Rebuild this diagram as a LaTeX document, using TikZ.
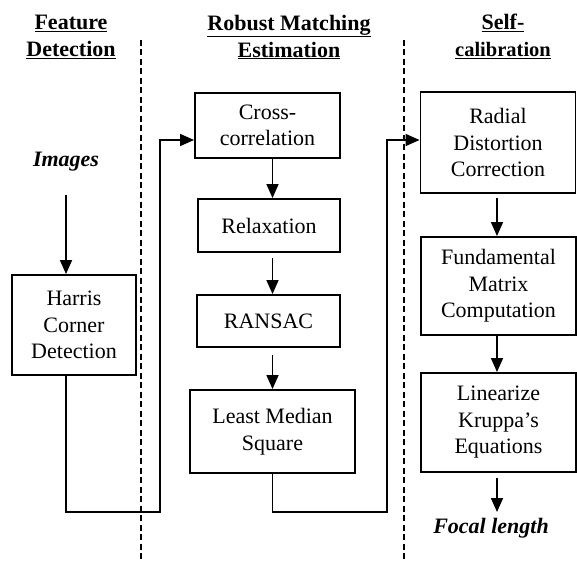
\documentclass[tikz,border=0pt]{standalone}
\usepackage{fontspec}
\setmainfont{Liberation Serif}
\usepackage{tikz}
\usetikzlibrary{arrows.meta,positioning,calc}
\tikzstyle{stage} = [rectangle, draw, line width=1.9pt, align=center,
                     inner sep=2pt, font=\fontsize{22}{26.5}\selectfont]
\tikzstyle{head}  = [align=center, inner sep=0pt,
                     font=\fontsize{22}{27}\selectfont\bfseries]
\tikzstyle{io}    = [inner sep=1pt, font=\fontsize{22}{26}\selectfont\bfseries\itshape]
\tikzstyle{flow}  = [line width=1.7pt]
\tikzstyle{sep}   = [line width=1.8pt, dash pattern=on 6pt off 3.5pt]

\begin{document}
\begin{tikzpicture}[x=1pt, y=-1pt, >={Triangle[length=14pt,width=12pt]}]
  \useasboundingbox (0,0) rectangle (577,561);
  % column headings
  \node[head] (hfeat) at (71,37)  {\underline{Feature}\\\underline{Detection}};
  \node[head] (hrob)  at (289,37) {\underline{Robust Matching}\\\underline{Estimation}};
  \node[head] (hself) at (503,36) {\underline{Self-}\\{\fontsize{20.5}{24}\selectfont\underline{calibration}}};
  \draw[sep] (141,40) -- (141,561);
  \draw[sep] (404,40) -- (404,561);
  % feature detection
  \node[io] (images) at (66,162) {Images};
  \node[stage, minimum width=124pt, minimum height=100pt] (harris) at (74,325)
       {Harris\\Corner\\Detection};
  % robust matching
  \node[stage, minimum width=145pt, minimum height=65pt] (cross) at (267.5,125.5)
       {Cross-\\correlation};
  \node[stage, minimum width=142pt, minimum height=53pt] (relax) at (269,225.5) {Relaxation};
  \node[stage, minimum width=143pt, minimum height=52pt] (ransac) at (268.5,321) {RANSAC};
  \node[stage, minimum width=165pt, minimum height=83pt] (lms) at (272.5,431.5)
       {Least Median\\Square};
  % self-calibration
  \node[stage, minimum width=155pt, minimum height=101pt] (radial) at (498,142.5)
       {Radial\\Distortion\\Correction};
  \node[stage, minimum width=155pt, minimum height=98pt] (fund) at (498.5,286)
       {Fundamental\\Matrix\\Computation};
  \node[stage, minimum width=155pt, minimum height=99pt] (lin) at (498.5,422.5)
       {Linearize\\Kruppa's\\Equations};
  \node[io] (focal) at (491,528) {Focal length};
  % connectors
  \coordinate (loopA) at (160,512);
  \coordinate (loopB) at (387,512);
  \draw[flow,->] ([yshift=-22pt]images.south) -- (images.south |- harris.north);
  \draw[flow,->] (harris.south -| images.south) |- (loopA) |- ([yshift=-14.5pt]cross.west);
  \draw[flow,->] (cross.south -| lms.north) -- (relax.north -| lms.north);
  \draw[flow,->,shorten <=5pt] (relax.south -| lms.north) -- (ransac.north -| lms.north);
  \draw[flow,->,shorten <=7pt] (ransac.south -| lms.north) -- (lms.north);
  \draw[flow,->] (lms.south) |- (loopB) |- ([yshift=2.5pt]radial.west);
  \draw[flow,->,shorten <=4pt] (radial.south -| 497,0) -- (fund.north -| 497,0);
  \draw[flow,->] (fund.south -| 497,0) -- (lin.north -| 497,0);
  \draw[flow,->,shorten <=5pt] (lin.south -| 497,0) -- (497,512);
\end{tikzpicture}
\end{document}
